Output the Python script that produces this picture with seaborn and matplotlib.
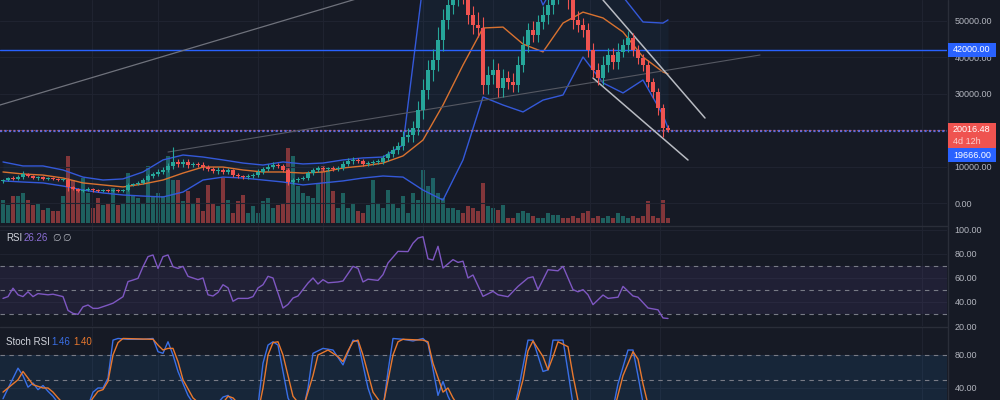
import numpy as np
import pandas as pd
import matplotlib
matplotlib.use("Agg")
import matplotlib.pyplot as plt
import seaborn as sns
from matplotlib.patches import Rectangle
from matplotlib.lines import Line2D
from matplotlib.transforms import IdentityTransform

# ---------------- data ----------------
first_open = 6000
closes = [
    6300, 6850, 6600, 7100, 7950, 7400, 6850, 7100, 6600, 6850,
    6600, 6300, 6300, 4400, 3850, 3300, 3550, 3850, 3550, 3300,
    3550, 3300, 3550, 3300, 3550, 4950, 5200, 5500, 6300, 7400,
    7950, 8500, 9050, 10150, 11250, 10700, 11250, 10400, 10700, 10400,
    9850, 9300, 8750, 9050, 8500, 9050, 7650, 7400, 7100, 7400,
    7650, 8500, 9300, 9850, 10400, 10150, 9050, 5750, 6300, 6600,
    6850, 8200, 9050, 9600, 9300, 9600, 9300, 9600, 10700, 11500,
    11800, 11500, 10700, 10950, 11250, 11250, 12350, 13450, 14500, 15600,
    18100, 18650, 20550, 25500, 31000, 36450, 39200, 44650, 50150, 54250,
    57000, 58000, 57000, 51500, 48800, 48000, 32300, 35000, 36400, 31500,
    34200, 33100, 32300, 37800, 43300, 47400, 46000, 49600, 51500, 54250,
    57000, 60000, 58400, 55600, 50150, 48800, 47400, 41900, 36450, 34250,
    37800, 40550, 38650, 41400, 43300, 45200, 41900, 39700, 37800, 33150,
    30400, 26000, 20550, 20016.48,
]
wick_hi = [
    400, 300, 500, 600, 700, 300, 400, 300, 300, 400,
    300, 250, 300, 500, 300, 250, 300, 400, 250, 300,
    250, 300, 250, 300, 250, 400, 300, 400, 500, 600,
    500, 700, 800, 800, 4000, 800, 900, 700, 600, 500,
    700, 600, 500, 700, 500, 600, 400, 500, 400, 600,
    500, 700, 600, 700, 800, 600, 500, 500, 600, 500,
    500, 700, 500, 600, 500, 400, 500, 500, 700, 800,
    700, 600, 500, 600, 500, 700, 800, 900, 1000, 1100,
    1500, 1800, 2000, 2500, 3000, 2800, 3000, 3500, 3000, 2500,
    3000, 2500, 3000, 3000, 2500, 3500, 3000, 2500, 3000, 2000,
    2500, 2000, 2500, 2500, 2500, 2000, 2500, 2000, 2500, 3000,
    2500, 3000, 2500, 3000, 4000, 2500, 2000, 2000, 2000, 2000,
    2500, 2000, 2000, 2500, 1500, 2000, 1500, 1500, 1200, 1500,
    1200, 1000, 1000, 800,
]
wick_lo = [
    400, 300, 400, 300, 500, 400, 300, 500, 300, 300,
    400, 300, 300, 1000, 400, 300, 300, 300, 400, 300,
    300, 300, 300, 300, 300, 300, 300, 300, 400, 400,
    500, 500, 500, 600, 700, 800, 800, 700, 600, 500,
    700, 500, 600, 700, 500, 600, 400, 500, 400, 400,
    500, 500, 500, 600, 600, 600, 500, 800, 500, 500,
    400, 500, 500, 600, 500, 400, 500, 400, 500, 600,
    700, 500, 600, 500, 500, 600, 600, 800, 900, 1000,
    1200, 1500, 1800, 2000, 2500, 2500, 3000, 3000, 3000, 2500,
    2500, 3000, 2500, 2500, 2500, 2500, 2500, 2500, 2500, 2500,
    2500, 2000, 2000, 2000, 2000, 2000, 2000, 2000, 2000, 2500,
    2500, 2500, 2000, 2500, 2500, 2000, 2000, 2000, 2000, 2000,
    2000, 2000, 2000, 2000, 1500, 2000, 1500, 1500, 1500, 1500,
    1500, 2000, 2500, 600,
]
volumes = [
    23, 18, 27, 27, 30, 23, 18, 20, 13, 15,
    12, 12, 27, 67, 43, 32, 45, 30, 15, 25,
    18, 20, 35, 18, 20, 50, 27, 25, 20, 57,
    27, 30, 27, 67, 43, 43, 22, 32, 20, 25,
    12, 38, 20, 17, 45, 23, 10, 22, 28, 10,
    17, 10, 22, 25, 15, 18, 20, 75, 67, 37,
    30, 27, 25, 40, 57, 53, 32, 15, 30, 15,
    20, 12, 10, 18, 43, 20, 15, 33, 20, 15,
    27, 10, 30, 23, 53, 37, 45, 30, 25, 15,
    15, 13, 10, 17, 15, 12, 40, 17, 15, 13,
    18, 5, 5, 10, 12, 10, 7, 5, 5, 10,
    8, 8, 5, 5, 7, 5, 10, 12, 5, 7,
    5, 7, 5, 10, 7, 5, 7, 5, 7, 22,
    7, 5, 23, 5,
]

# Bollinger bands, sampled every 4 bars
band_idx = list(range(0, 133, 4)) + [133]
bb_upper = [11250, 10150, 10150, 9050, 7100, 6300, 6600, 8500, 11800, 13150,
            12600, 11800, 10950, 10400, 11250, 10700, 10950, 11800, 12350, 12600,
            15900, 60000, 85000, 90000, 85000, 78000, 68000, 54250, 64000, 65000,
            60000, 56500, 49600, 49300, 50150]
bb_basis = [8500, 7950, 7650, 6850, 5500, 4950, 4400, 5200, 6300, 8200,
            9850, 9850, 9050, 8500, 8500, 8200, 8500, 9600, 10150, 10950,
            12900, 17250, 26850, 37800, 47950, 48200, 43550, 41400, 49300, 52300,
            50700, 46850, 40000, 35900, 35350]
bb_lower = [6050, 5750, 5500, 4650, 3550, 2750, 2200, 1900, 1650, 3000,
            6300, 7100, 6850, 6300, 5750, 4950, 5500, 6050, 6850, 7400,
            7100, 3550, 800, 11800, 29050, 26850, 24950, 28200, 29600, 40000,
            32900, 30150, 33700, 24100, 20550]

rsi_idx = [0, 1, 2, 3, 4, 5, 6, 7, 9, 10, 12, 13, 14, 15, 16, 17, 18, 19, 21, 22,
           23, 24, 25, 26, 27, 28, 29, 30, 31, 32, 33, 34, 35, 36, 37, 39, 40, 41, 42, 43,
           44, 45, 46, 47, 49, 50, 51, 52, 53, 54, 55, 56, 57, 58, 59, 61, 62, 63, 64, 65,
           67, 68, 70, 71, 72, 73, 75, 76, 77, 79, 81, 82, 83, 84, 85, 86, 87, 88, 90, 91,
           92, 93, 94, 96, 98, 99, 101, 103, 105, 106, 107, 109, 111, 112, 114, 115, 116, 117, 118, 120,
           121, 123, 124, 126, 127, 129, 131, 132, 133]
rsi_val = [43, 44.5, 51.5, 46, 44.5, 48.5, 44.5, 47, 46, 46.5, 44.5, 33, 30.5, 29.7, 36, 37.5, 34.7, 34.7, 37.5, 39,
           41.7, 44.4, 57, 58.3, 59.7, 69.4, 77.8, 79.2, 68, 77.8, 79.2, 69.4, 68, 69.7, 61.4, 58.6, 60, 46, 45, 48,
           54.4, 51.8, 40.6, 43, 43, 44.5, 51.7, 54.4, 61.4, 60, 47.5, 35, 38, 43.3, 45, 55.8, 60, 55, 58.6, 56,
           56.7, 57.5, 69.7, 68, 56.7, 59, 58, 62.8, 72.5, 82.2, 82, 89, 93.3, 94.4, 76, 75, 86.4, 68.3, 75.3, 73,
           74, 60, 62.5, 44.7, 48.9, 46, 44.4, 53, 60, 61, 50.3, 66.9, 66, 69.7, 50.3, 48.5, 50.3, 46, 37.8, 45.8,
           43, 44, 53, 45, 44, 35, 33.5, 26.7, 26.26]

k_idx = [0, 3, 4, 5, 6, 7, 8, 9, 10, 11, 13, 15, 17, 18, 19, 20, 21, 22, 23, 25,
         28, 30, 31, 32, 33, 34, 35, 37, 38, 40, 42, 44, 45, 46, 48, 50, 51, 52, 53, 54,
         55, 57, 58, 60, 61, 62, 64, 66, 68, 70, 71, 73, 74, 76, 77, 78, 80, 82, 84, 85,
         87, 88, 89, 90, 93, 96, 100, 102, 103, 105, 106, 108, 109, 110, 112, 113, 114, 116, 120, 122,
         123, 125, 126, 127, 128, 129, 131, 133]
k_val = [27, 64, 55, 41, 46, 38, 43, 36, 30, 22, 10, 5, 18, 35, 40, 40, 52, 98, 100, 99,
         99, 100, 84, 82, 96, 80, 60, 31, 22, 12, 15, 29, 31, 24, 10, 8, 18, 70, 92, 96,
         92, 28, 15, 12, 40, 82, 88, 86, 68, 98, 96, 40, 22, 15, 60, 100, 99, 97, 100, 94,
         31, 48, 30, 18, 5, 2, 3, 10, 35, 98, 98, 60, 62, 98, 98, 60, 20, 8, 5, 15,
         45, 86, 86, 55, 22, 8, 3, 1.46]
d_idx = [0, 3, 4, 5, 6, 8, 9, 10, 11, 13, 16, 18, 19, 20, 21, 22, 23, 24, 30, 31,
         32, 33, 34, 35, 36, 38, 41, 44, 45, 46, 48, 51, 52, 53, 54, 55, 56, 58, 60, 62,
         63, 65, 67, 68, 69, 70, 71, 72, 74, 76, 78, 79, 80, 84, 85, 86, 88, 89, 90, 92,
         96, 102, 104, 105, 106, 108, 109, 110, 111, 113, 114, 115, 117, 122, 124, 126, 127, 128, 129, 131,
         133]
d_val = [35, 50, 60, 52, 44, 40, 40, 35, 28, 15, 10, 28, 36, 38, 48, 80, 95, 100, 99, 92,
         86, 88, 88, 72, 50, 28, 12, 22, 30, 28, 15, 10, 40, 80, 95, 96, 80, 30, 15, 55,
         80, 86, 78, 72, 85, 96, 98, 80, 35, 18, 80, 96, 99, 98, 96, 70, 35, 40, 28, 10,
         3, 5, 50, 85, 97, 78, 62, 78, 96, 90, 55, 25, 8, 8, 55, 84, 75, 45, 20, 5,
         1.40]

level_lines = [42000, 19666]
price_ticks = [0, 10000, 20000, 30000, 40000, 50000]
rsi_ticks = [20, 40, 60, 80, 100]
rsi_levels = [30, 50, 70]
stoch_ticks = [40, 80]
stoch_levels = [20, 50, 80]
vgrid_idx = [17.8, 31, 51, 64, 84, 98, 117.4, 131.4, 183.8]

# drawn trend lines (bar index, price)
trend_a = ([-1, 75], [26690, 57680])
trend_b = ([33, 151.4], [13970, 40550])
channel_top = ([120, 140.4], [55620, 23290])
channel_bot = ([118, 137], [34250, 11780])
countdown = "4d 12h"

# ---------------- style ----------------
bg = "#161a25"
grid_c = "#1f2330"
sep_c = "#2a2e39"
txt_c = "#b2b5be"
green, red = "#26a69a", "#ef5350"
blue, orange, purple = "#2962ff", "#ff6d00", "#7e57c2"

sns.set_theme(style="dark", rc={"axes.facecolor": bg, "figure.facecolor": bg})
plt.rcParams["font.family"] = ["Liberation Sans", "DejaVu Sans"]

df = pd.DataFrame({"close": closes})
df["open"] = [first_open] + closes[:-1]
df["top"] = df[["open", "close"]].max(axis=1)
df["bot"] = df[["open", "close"]].min(axis=1)
df["high"] = df["top"] + np.array(wick_hi)
df["low"] = df["bot"] - np.array(wick_lo)
df["up"] = df["close"] >= df["open"]
df["idx"] = np.arange(len(df))
cols = np.where(df["up"], green, red)

fig = plt.figure(figsize=(10, 4), dpi=100)
ax_v = fig.add_axes([0, 0.435, 0.947, 0.565])
ax = fig.add_axes([0, 0.435, 0.947, 0.565], sharex=ax_v)
ax_r = fig.add_axes([0, 0.185, 0.947, 0.25], sharex=ax_v)
ax_s = fig.add_axes([0, 0, 0.947, 0.1825], sharex=ax_v)
ax.patch.set_visible(False)


def style_panel(a, ticks):
    for s in a.spines.values():
        s.set_visible(False)
    a.grid(False)
    a.set_yticks(ticks)
    a.set_yticklabels([f"{t:.2f}" for t in ticks])
    a.yaxis.tick_right()
    a.tick_params(axis="y", length=0, pad=5.5, labelsize=6.5, labelcolor=txt_c)
    a.tick_params(axis="x", length=0, labelbottom=False)
    a.set_xlabel("")
    a.set_ylabel("")
    for t in ticks:
        a.axhline(t, color=grid_c, lw=0.8, zorder=0)
    for g in vgrid_idx:
        a.axvline(g, color=grid_c, lw=0.8, zorder=0)


# volume
ax_v.bar(df["idx"], volumes, width=0.7, color=cols, alpha=0.5, linewidth=0)
ax_v.set_ylim(-3, 223)
ax_v.axis("off")

# bollinger fill + lines
ax.fill_between(band_idx, bb_lower, bb_upper, color="#2196f3", alpha=0.05, lw=0)
sns.lineplot(x=band_idx, y=bb_upper, ax=ax, color="#3459d9", lw=1, estimator=None, sort=False)
sns.lineplot(x=band_idx, y=bb_lower, ax=ax, color="#3459d9", lw=1, estimator=None, sort=False)
sns.lineplot(x=band_idx, y=bb_basis, ax=ax, color="#d9722f", lw=1, estimator=None, sort=False)

# candles
ax.vlines(df["idx"], df["low"], df["high"], colors=cols, lw=0.8, zorder=3)
body = np.maximum(df["top"] - df["bot"], 250)
ax.bar(df["idx"], body, bottom=df["bot"], width=0.7, color=cols, linewidth=0, zorder=4)

# level lines
ax.axhline(level_lines[0], color=blue, lw=1, zorder=2)
ax.axhline(level_lines[1], color="#5b6ee1", lw=1.6, ls=(0, (1, 1)), zorder=2)
ax.axhline(closes[-1], color=red, lw=0.8, ls=(0, (1, 2)), alpha=0.7, zorder=2)

# trend lines
sns.lineplot(x=trend_a[0], y=trend_a[1], ax=ax, color="#6f727c", lw=0.9, estimator=None, sort=False)
sns.lineplot(x=trend_b[0], y=trend_b[1], ax=ax, color="#555862", lw=0.8, estimator=None, sort=False)
sns.lineplot(x=channel_top[0], y=channel_top[1], ax=ax, color="#b8bbc2", lw=1.1, estimator=None, sort=False)
sns.lineplot(x=channel_bot[0], y=channel_bot[1], ax=ax, color="#b8bbc2", lw=1.1, estimator=None, sort=False)

ax.set_xlim(-0.6, 188.8)
ax.set_ylim(-6300, 55620)
style_panel(ax, price_ticks)

# RSI
ax_r.axhspan(rsi_levels[0], rsi_levels[2], color=purple, alpha=0.1, lw=0)
for lv in rsi_levels:
    ax_r.axhline(lv, color="#787b86", lw=0.8, ls=(0, (4, 4)))
sns.lineplot(x=rsi_idx, y=rsi_val, ax=ax_r, color=purple, lw=1, estimator=None, sort=False)
ax_r.set_ylim(20, 103.33)
style_panel(ax_r, rsi_ticks)

# Stoch RSI
ax_s.axhspan(stoch_levels[0], stoch_levels[2], color="#2196f3", alpha=0.1, lw=0)
for lv in stoch_levels:
    ax_s.axhline(lv, color="#787b86", lw=0.8, ls=(0, (4, 4)))
sns.lineplot(x=k_idx, y=k_val, ax=ax_s, color="#3a6fe6", lw=1, estimator=None, sort=False)
sns.lineplot(x=d_idx, y=d_val, ax=ax_s, color="#e8782e", lw=1, estimator=None, sort=False)
ax_s.set_ylim(25.45, 113.9)
style_panel(ax_s, stoch_ticks)
ax.set_xlim(-0.6, 188.8)

# separators
H = 400
pix = IdentityTransform()
for yy in (226, 327):
    fig.add_artist(Line2D([0, 947], [H - yy, H - yy], transform=pix, color=sep_c, lw=1))
fig.add_artist(Line2D([947.5, 947.5], [0, H], transform=pix, color=sep_c, lw=1))


def ydisp(a, v):
    return a.transData.transform((0, v))[1]


def price_box(y_center, h, color):
    fig.add_artist(Rectangle((948, y_center - h / 2), 48, h, transform=pix,
                             facecolor=color, edgecolor="none", zorder=5))


y42 = ydisp(ax, level_lines[0])
price_box(y42, 14, blue)
fig.text(953, y42, f"{level_lines[0]:.2f}", transform=pix, color="white",
         fontsize=6.5, va="center", ha="left", zorder=6)

ylast = ydisp(ax, closes[-1])
fig.add_artist(Rectangle((948, ylast - 19), 48, 26, transform=pix,
                         facecolor=red, edgecolor="none", zorder=5))
fig.text(953, ylast + 0.5, f"{closes[-1]:.2f}", transform=pix, color="white",
         fontsize=6.5, va="center", ha="left", zorder=6)
fig.text(953, ylast - 12, countdown, transform=pix, color="#fbd0cf",
         fontsize=6.5, va="center", ha="left", zorder=6)

y19 = ydisp(ax, level_lines[1])
price_box(y19 - 24, 14, blue)
fig.text(953, y19 - 24, f"{level_lines[1]:.2f}", transform=pix, color="white",
         fontsize=6.5, va="center", ha="left", zorder=6)

# panel legends
fig.text(6, H - 238, "RSI", transform=pix, color="#d1d4dc", fontsize=7, va="center")
fig.text(24, H - 238, f"{rsi_val[-1]:.2f}", transform=pix, color="#8c6fd6", fontsize=7, va="center")
fig.text(52, H - 238, "\u2205", transform=pix, color=txt_c, fontsize=7, va="center")
fig.text(62, H - 238, "\u2205", transform=pix, color=txt_c, fontsize=7, va="center")

fig.text(6, H - 342, "Stoch RSI", transform=pix, color="#d1d4dc", fontsize=7, va="center")
fig.text(51, H - 342, f"{k_val[-1]:.2f}", transform=pix, color="#3a6fe6", fontsize=7, va="center")
fig.text(73, H - 342, f"{d_val[-1]:.2f}", transform=pix, color="#e8782e", fontsize=7, va="center")

fig.savefig("out.png", dpi=100, facecolor=bg)
